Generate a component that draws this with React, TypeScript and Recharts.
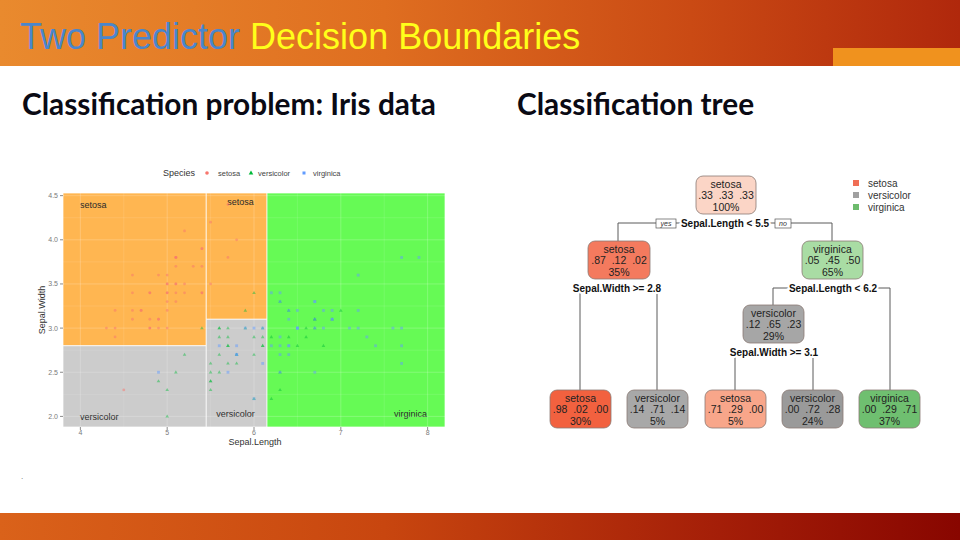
import React from "react"
import { ScatterChart, Scatter, XAxis, YAxis, ReferenceArea, ReferenceLine } from "recharts"

// iris measurements as plotted (Sepal.Length, Sepal.Width)
const setosaLength = [5.1, 4.9, 4.7, 4.6, 5.0, 5.4, 4.6, 5.0, 4.4, 4.9, 5.4, 4.8, 4.8, 4.3, 5.8, 5.7, 5.4, 5.1, 5.7, 5.1, 5.4, 5.1, 4.6, 5.1, 4.8, 5.0, 5.0, 5.2, 5.2, 4.7, 4.8, 5.4, 5.2, 5.5, 4.9, 5.0, 5.5, 4.9, 4.4, 5.1, 5.0, 4.5, 4.4, 5.0, 5.1, 4.8, 5.1, 4.6, 5.3, 5.0]
const setosaWidth = [3.5, 3.0, 3.2, 3.1, 3.6, 3.9, 3.4, 3.4, 2.9, 3.1, 3.7, 3.4, 3.0, 3.0, 4.0, 4.4, 3.9, 3.5, 3.8, 3.8, 3.4, 3.7, 3.6, 3.3, 3.4, 3.0, 3.4, 3.5, 3.4, 3.2, 3.1, 3.4, 4.1, 4.2, 3.1, 3.2, 3.5, 3.6, 3.0, 3.4, 3.5, 2.3, 3.2, 3.5, 3.8, 3.0, 3.8, 3.2, 3.7, 3.3]
const versicolorLength = [7.0, 6.4, 6.9, 5.5, 6.5, 5.7, 6.3, 4.9, 6.6, 5.2, 5.0, 5.9, 6.0, 6.1, 5.6, 6.7, 5.6, 5.8, 6.2, 5.6, 5.9, 6.1, 6.3, 6.1, 6.4, 6.6, 6.8, 6.7, 6.0, 5.7, 5.5, 5.5, 5.8, 6.0, 5.4, 6.0, 6.7, 6.3, 5.6, 5.5, 5.5, 6.1, 5.8, 5.0, 5.6, 5.7, 5.7, 6.2, 5.1, 5.7]
const versicolorWidth = [3.2, 3.2, 3.1, 2.3, 2.8, 2.8, 3.3, 2.4, 2.9, 2.7, 2.0, 3.0, 2.2, 2.9, 2.9, 3.1, 3.0, 2.7, 2.2, 2.5, 3.2, 2.8, 2.5, 2.8, 2.9, 3.0, 2.8, 3.0, 2.9, 2.6, 2.4, 2.4, 2.7, 2.7, 3.0, 3.4, 3.1, 2.3, 3.0, 2.5, 2.6, 3.0, 2.6, 2.3, 2.7, 3.0, 2.9, 2.9, 2.5, 2.8]
const virginicaLength = [6.3, 5.8, 7.1, 6.3, 6.5, 7.6, 4.9, 7.3, 6.7, 7.2, 6.5, 6.4, 6.8, 5.7, 5.8, 6.4, 6.5, 7.7, 7.7, 6.0, 6.9, 5.6, 7.7, 6.3, 6.7, 7.2, 6.2, 6.1, 6.4, 7.2, 7.4, 7.9, 6.4, 6.3, 6.1, 7.7, 6.3, 6.4, 6.0, 6.9, 6.7, 6.9, 5.8, 6.8, 6.7, 6.7, 6.3, 6.5, 6.2, 5.9]
const virginicaWidth = [3.3, 2.7, 3.0, 2.9, 3.0, 3.0, 2.5, 2.9, 2.5, 3.6, 3.2, 2.7, 3.0, 2.5, 2.8, 3.2, 3.0, 3.8, 2.6, 2.2, 3.2, 2.8, 2.8, 2.7, 3.3, 3.2, 2.8, 3.0, 2.8, 3.0, 2.8, 3.8, 2.8, 2.8, 2.6, 3.0, 3.4, 3.1, 3.0, 3.1, 3.1, 3.1, 2.7, 3.2, 3.3, 3.0, 2.5, 3.0, 3.4, 3.0]

// panel extents and tree splits
const lengthRange = [3.8, 8.2]
const widthRange = [1.88, 4.53]
const lengthTicks = [4, 5, 6, 7, 8]
const widthTicks = [2.0, 2.5, 3.0, 3.5, 4.0, 4.5]
const lengthGrid = [4, 4.5, 5, 5.5, 6, 6.5, 7, 7.5, 8]
const widthGrid = [2.0, 2.25, 2.5, 2.75, 3.0, 3.25, 3.5, 3.75, 4.0, 4.25, 4.5]

// decision regions: class and extent of each tile
const regionClass = ["setosa", "setosa", "versicolor", "versicolor", "virginica"]
const regionX1 = [3.8, 5.45, 3.8, 5.45, 6.15]
const regionX2 = [5.45, 6.15, 5.45, 6.15, 8.2]
const regionY1 = [2.8, 3.1, 1.88, 1.88, 1.88]
const regionY2 = [4.53, 4.53, 2.8, 3.1, 4.53]

// tree nodes
const nodeClass = ["setosa", "setosa", "virginica", "versicolor", "setosa", "versicolor", "setosa", "versicolor", "virginica"]
const nodeProbs = [".33  .33  .33", ".87  .12  .02", ".05  .45  .50", ".12  .65  .23", ".98  .02  .00", ".14  .71  .14", ".71  .29  .00", ".00  .72  .28", ".00  .29  .71"]
const nodePct = ["100%", "35%", "65%", "29%", "30%", "5%", "5%", "24%", "37%"]
const splitText = ["Sepal.Length < 5.5", "Sepal.Width >= 2.8", "Sepal.Length < 6.2", "Sepal.Width >= 3.1"]

const regionFill: Record<string, string> = { setosa: "#FFB651", versicolor: "#CCCCCC", virginica: "#66FA55" }
const pointColor = { setosa: "#F8766D", versicolor: "#00BA38", virginica: "#619CFF" }
const nodeFill = ["#FBD5C6", "#F47A5E", "#A9DCA4", "#A6A6A6", "#F2613F", "#A8A8A8", "#F8A68A", "#9A9A9A", "#6FBF70"]
const legendClass = ["setosa", "versicolor", "virginica"]
const legendFill = ["#F06E55", "#A0A0A0", "#6DBB6D"]

const toPoints = (xs: number[], ys: number[]) => xs.map((x, i) => ({ x, y: ys[i] }))
const setosaPts = toPoints(setosaLength, setosaWidth)
const versicolorPts = toPoints(versicolorLength, versicolorWidth)
const virginicaPts = toPoints(virginicaLength, virginicaWidth)

const FONT = "'Liberation Sans', Arial, sans-serif"
const HEAD_FONT = "Lato, sans-serif"

// small ggplot-like markers
const dotShape = (color: string) => (p: any) => <circle cx={p.cx} cy={p.cy} r={1.4} fill={color} fillOpacity={0.5} />
const triShape = (color: string) => (p: any) => (
  <path d={`M${p.cx},${p.cy - 1.9} L${p.cx + 1.8},${p.cy + 1.2} L${p.cx - 1.8},${p.cy + 1.2} Z`} fill={color} fillOpacity={0.45} />
)
const sqShape = (color: string) => (p: any) => <rect x={p.cx - 1.4} y={p.cy - 1.4} width={2.8} height={2.8} fill={color} fillOpacity={0.5} />

// where each region label sits inside its tile
const labelSpots = [
  { side: "top", dx: 17, dy: 12, anchor: "start" },
  { side: "top", dx: 21, dy: 9, anchor: "start" },
  { side: "bottom", dx: 17, dy: -10, anchor: "start" },
  { side: "bottom", dx: 10, dy: -13, anchor: "start" },
  { side: "bottomRight", dx: -18, dy: -13, anchor: "end" },
]

const regionLabel = (text: string, i: number) => (props: any) => {
  const vb = props.viewBox || {}
  const s = labelSpots[i]
  const x = s.side === "bottomRight" ? vb.x + vb.width + s.dx : vb.x + s.dx
  const y = s.side === "top" ? vb.y + s.dy : vb.y + vb.height + s.dy
  return (
    <text x={x} y={y} dy="0.35em" textAnchor={s.anchor} fontSize={9} fill="#2a2a2a" fontFamily={FONT}>
      {text}
    </text>
  )
}

const IrisPlot = () => (
  <div style={{ position: "absolute", left: 30, top: 160, width: 430, height: 300 }}>
    <ScatterChart width={430} height={300} margin={{ top: 33, right: 15, bottom: 12, left: 0 }}>
      <XAxis
        type="number"
        dataKey="x"
        domain={lengthRange}
        ticks={lengthTicks}
        allowDataOverflow
        axisLine={false}
        tickSize={3}
        tickMargin={0}
        height={21}
        tickLine={{ stroke: "#8a8a8a" }}
        tick={{ fontSize: 7, fill: "#7a7a7a" }}
      />
      <YAxis
        type="number"
        dataKey="y"
        domain={widthRange}
        ticks={widthTicks}
        allowDataOverflow
        axisLine={false}
        tickSize={3}
        tickMargin={2}
        width={33}
        tickLine={{ stroke: "#8a8a8a" }}
        tick={{ fontSize: 7, fill: "#7a7a7a" }}
        tickFormatter={(v: number) => v.toFixed(1)}
      />
      {regionClass.map((c, i) => (
        <ReferenceArea
          key={"r" + i}
          x1={regionX1[i]}
          x2={regionX2[i]}
          y1={regionY1[i]}
          y2={regionY2[i]}
          fill={regionFill[c]}
          fillOpacity={1}
          stroke="#ffffff"
          strokeOpacity={0.7}
          strokeWidth={1}
          label={regionLabel(c, i)}
        />
      ))}
      {lengthGrid.map((v) => (
        <ReferenceLine key={"gx" + v} x={v} stroke="#ffffff" strokeOpacity={Number.isInteger(v) ? 0.2 : 0.1} />
      ))}
      {widthGrid.map((v) => (
        <ReferenceLine key={"gy" + v} y={v} stroke="#ffffff" strokeOpacity={v * 2 === Math.round(v * 2) ? 0.2 : 0.1} />
      ))}
      <Scatter data={setosaPts} shape={dotShape(pointColor.setosa)} fill={pointColor.setosa} isAnimationActive={false} />
      <Scatter data={versicolorPts} shape={triShape(pointColor.versicolor)} fill={pointColor.versicolor} isAnimationActive={false} />
      <Scatter data={virginicaPts} shape={sqShape(pointColor.virginica)} fill={pointColor.virginica} isAnimationActive={false} />
    </ScatterChart>
  </div>
)

const PlotLegend = () => (
  <svg style={{ position: "absolute", left: 150, top: 163 }} width={220} height={20}>
    <text x={13} y={10} dy="0.35em" fontSize={9} fill="#333" fontFamily={FONT}>Species</text>
    <circle cx={57} cy={10} r={1.8} fill={pointColor.setosa} />
    <text x={68} y={10} dy="0.35em" fontSize={7.5} fill="#444" fontFamily={FONT}>setosa</text>
    <path d="M101,7.5 L103.3,11.5 L98.7,11.5 Z" fill={pointColor.versicolor} />
    <text x={108} y={10} dy="0.35em" fontSize={7.5} fill="#444" fontFamily={FONT}>versicolor</text>
    <rect x={152.5} y={8.5} width={3} height={3} fill={pointColor.virginica} />
    <text x={163} y={10} dy="0.35em" fontSize={7.5} fill="#444" fontFamily={FONT}>virginica</text>
  </svg>
)

// node boxes in tree-local coordinates
const nodeBox = [
  { x: 156, y: 16, w: 60 },
  { x: 48, y: 81, w: 62 },
  { x: 262, y: 81, w: 61 },
  { x: 203, y: 145, w: 61 },
  { x: 10, y: 230, w: 61 },
  { x: 87, y: 230, w: 61 },
  { x: 165, y: 230, w: 61 },
  { x: 242, y: 230, w: 61 },
  { x: 319, y: 230, w: 61 },
]

const TreeNode = ({ i }: { i: number }) => {
  const b = nodeBox[i]
  const cx = b.x + b.w / 2
  return (
    <g>
      <rect x={b.x} y={b.y} width={b.w} height={38} rx={7} fill={nodeFill[i]} stroke="#8a7a74" strokeWidth={0.8} />
      <text x={cx} y={b.y + 8} dy="0.35em" textAnchor="middle" fontSize={10.5} fill="#222">{nodeClass[i]}</text>
      <text x={cx} y={b.y + 19.5} dy="0.35em" textAnchor="middle" fontSize={10.5} fill="#222" style={{ whiteSpace: "pre" }}>{nodeProbs[i]}</text>
      <text x={cx} y={b.y + 31} dy="0.35em" textAnchor="middle" fontSize={10.5} fill="#222">{nodePct[i]}</text>
    </g>
  )
}

const SplitLabel = ({ x, y, text }: { x: number; y: number; text: string }) => (
  <text x={x} y={y} dy="0.35em" textAnchor="middle" fontSize={10} fontWeight="bold" fill="#111" stroke="#fff" strokeWidth={4} paintOrder="stroke">
    {text}
  </text>
)

const Tree = () => (
  <svg style={{ position: "absolute", left: 540, top: 160 }} width={400} height={280} fontFamily={FONT}>
    <g stroke="#5a5a5a" strokeWidth={1} fill="none">
      <path d="M78,81 L78,63 L292,63 L292,81" />
      <path d="M40,230 L40,128 L117,128 L117,230" />
      <path d="M233,145 L233,128 L350,128 L350,230" />
      <path d="M195,230 L195,192 L273,192 L273,230" />
    </g>
    <SplitLabel x={185} y={63} text={splitText[0]} />
    <rect x={116} y={59} width={20} height={9} fill="#fff" stroke="#555" strokeWidth={0.7} />
    <text x={126} y={63.5} dy="0.35em" textAnchor="middle" fontSize={7} fontStyle="italic" fill="#333">yes</text>
    <rect x={235} y={59} width={16} height={9} fill="#fff" stroke="#555" strokeWidth={0.7} />
    <text x={243} y={63.5} dy="0.35em" textAnchor="middle" fontSize={7} fontStyle="italic" fill="#333">no</text>
    <SplitLabel x={77} y={128} text={splitText[1]} />
    <SplitLabel x={293} y={128} text={splitText[2]} />
    <SplitLabel x={234} y={192} text={splitText[3]} />
    {nodeBox.map((_, i) => (
      <TreeNode key={i} i={i} />
    ))}
    {legendClass.map((c, i) => (
      <g key={c}>
        <rect x={313} y={20 + i * 12} width={6} height={6} fill={legendFill[i]} />
        <text x={328} y={23 + i * 12} dy="0.35em" fontSize={10} fill="#333">{c}</text>
      </g>
    ))}
  </svg>
)

const headStyle: React.CSSProperties = {
  position: "absolute",
  top: 89,
  fontFamily: HEAD_FONT,
  fontWeight: 700,
  fontSize: 29.8,
  lineHeight: "30px",
  color: "#0a0a14",
  whiteSpace: "nowrap",
}

export default function App() {
  return (
    <div style={{ position: "absolute", left: 0, top: 0, width: 960, height: 540, background: "#fff", overflow: "hidden", fontFamily: FONT }}>
      <div style={{ position: "absolute", left: 0, top: 0, width: 960, height: 66, background: "linear-gradient(90deg, #E98A2E 0%, #DF6E20 40%, #CA4A14 72%, #B0280C 100%)" }} />
      <div style={{ position: "absolute", left: 833, top: 48, width: 127, height: 18, background: "#F0921E" }} />
      <div style={{ position: "absolute", left: 20, top: 18.5, fontSize: 36, lineHeight: "36px", whiteSpace: "nowrap" }}>
        <span style={{ color: "#4A86CC" }}>Two Predictor </span>
        <span style={{ color: "#FFFF1A" }}>Decision Boundaries</span>
      </div>
      <div style={{ ...headStyle, left: 22 }}>Classification problem: Iris data</div>
      <div style={{ ...headStyle, left: 517 }}>Classification tree</div>
      <PlotLegend />
      <IrisPlot />
      <div style={{ position: "absolute", left: 195, top: 437, width: 120, textAlign: "center", fontSize: 9, color: "#333" }}>Sepal.Length</div>
      <div style={{ position: "absolute", left: 42, top: 310, fontSize: 9, color: "#333", transform: "translate(-50%, -50%) rotate(-90deg)", whiteSpace: "nowrap" }}>Sepal.Width</div>
      <Tree />
      <div style={{ position: "absolute", left: 21, top: 472, fontSize: 8, color: "#666" }}>.</div>
      <div style={{ position: "absolute", left: 0, top: 513, width: 960, height: 27, background: "linear-gradient(90deg, #DA621A 0%, #C8460F 40%, #A41E08 75%, #880600 100%)" }} />
    </div>
  )
}
